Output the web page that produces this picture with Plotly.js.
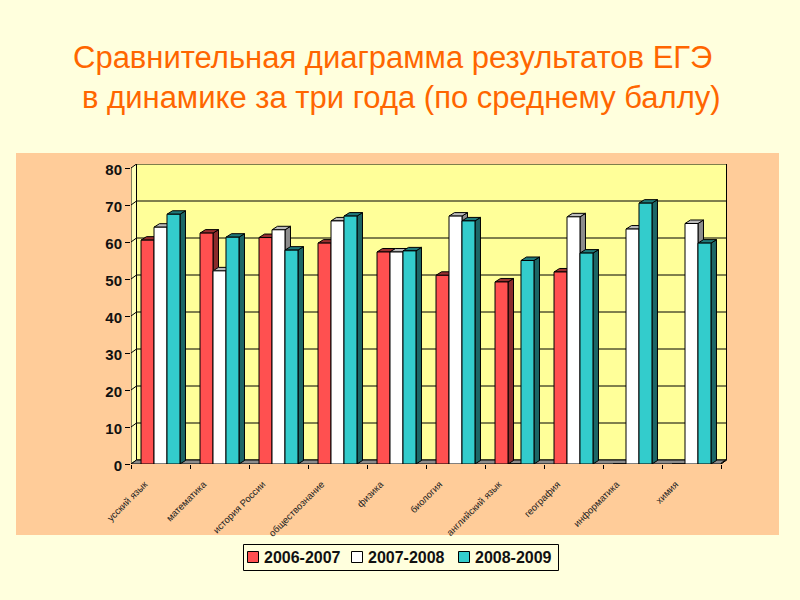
<!DOCTYPE html>
<html><head><meta charset="utf-8">
<script src="https://cdn.plot.ly/plotly-3.0.1.min.js"></script>
<style>html,body{margin:0;padding:0;background:#FFFFDD}</style></head><body>
<div id="chart" style="width:800px;height:600px"></div>
<script>
const categories = ["усский язык","математика","история России","обществознание","физика","биология","английский язык","география","информатика","химия"];
const seriesNames = ["2006-2007","2007-2008","2008-2009"];
const values2006 = [60.5,62.4,61.2,59.7,57.3,51,49.2,51.9,0,0];
const values2007 = [64,52.2,63.3,65.7,57.3,67,0,66.8,63.5,65];
const values2008 = [67.5,61.3,57.8,67,57.6,65.7,55,57,70.5,59.7];
const yTicks = [0,10,20,30,40,50,60,70,80];

const W=800,H=600,L=131,R=727,T=164,B=464;
const pxX=59, pxY=3.7;
const x0=-0.5, x1=x0+(R-L)/pxX, y1=(B-T)/pxY;
const paperX=p=>(p-L)/(R-L), paperY=p=>(B-p)/(B-T);
const wallDx=5.5/pxX, wallDy=4/pxY, barDx=5.5/pxX, barDy=3.5/pxY;
const barW=0.22;
const fills=["#FF5050","#FFFFFF","#33CCCC"];
const tops=["#993030","#BBBBBB","#1F7A7A"];
const sides=["#8A2B2B","#8C8C8C","#1C6666"];
const all=[values2006,values2007,values2008];
const poly=(pts,fill,w,col)=>({type:"path",xref:"x",yref:"y",layer:"below",
  path:"M"+pts.map(p=>p[0]+" "+p[1]).join(" L")+" Z",fillcolor:fill,line:{width:w===undefined?1:w,color:col||"#000"}});

const shapes=[];
shapes.push({type:"rect",xref:"paper",yref:"paper",layer:"below",x0:paperX(16),x1:paperX(779),y0:paperY(535),y1:paperY(153),fillcolor:"#FFCC99",line:{width:0}});
const xe=x0+categories.length;
shapes.push(poly([[x0+wallDx,wallDy],[xe+wallDx,wallDy],[xe+wallDx,80+wallDy],[x0+wallDx,80+wallDy]],"#FFFF99"));
shapes.push(poly([[x0,0],[x0+wallDx,wallDy],[x0+wallDx,80+wallDy],[x0,80]],"#FFFFB8"));
shapes.push(poly([[x0,0],[xe,0],[xe+wallDx,wallDy],[x0+wallDx,wallDy]],"#8C8C8C"));
shapes.push(poly([[xe,0],[xe+wallDx,wallDy],[xe+wallDx,0.2+wallDy],[xe,0.2]],"#FFFFB8"));
yTicks.slice(1,-1).forEach(v=>{
  shapes.push({type:"line",xref:"x",yref:"y",layer:"below",x0:x0,y0:v,x1:x0+wallDx,y1:v+wallDy,line:{width:1,color:"#000"}});
  shapes.push({type:"line",xref:"x",yref:"y",layer:"below",x0:x0+wallDx,y0:v+wallDy,x1:xe+wallDx,y1:v+wallDy,line:{width:1,color:"#000"}});
});
categories.forEach((c,i)=>{
  all.forEach((vals,s)=>{
    const v=vals[i]; if(!v) return;
    const a=i+(s-1)*barW-barW/2, b=a+barW;
    shapes.push(poly([[b,0],[b+barDx,barDy],[b+barDx,v+barDy],[b,v]],sides[s]));
    shapes.push(poly([[a,v],[b,v],[b+barDx,v+barDy],[a+barDx,v+barDy]],tops[s]));
  });
});

// legend box, swatches and labels
const annotations=[];
shapes.push({type:"rect",xref:"paper",yref:"paper",layer:"above",x0:paperX(243.5),x1:paperX(558.5),y0:paperY(570.5),y1:paperY(544.5),fillcolor:"#FFFFDD",line:{width:1,color:"#000"}});
const swatchX=[247,351,458], labelX=[262,366,473];
seriesNames.forEach((n,s)=>{
  shapes.push({type:"rect",xref:"paper",yref:"paper",layer:"above",x0:paperX(swatchX[s]+.5),x1:paperX(swatchX[s]+11.5),y0:paperY(562.5),y1:paperY(551.5),fillcolor:fills[s],line:{width:1,color:"#000"}});
  annotations.push({xref:"paper",yref:"paper",x:paperX(labelX[s]),y:paperY(557),xanchor:"left",yanchor:"middle",showarrow:false,text:n,
    font:{size:16,weight:"bold",color:"#111"}});
});

const xs=categories.map((c,i)=>i);
const traces=all.map((vals,s)=>({type:"bar",name:seriesNames[s],x:xs,y:vals,
  marker:{color:fills[s],line:{color:"#000",width:1}},hoverinfo:"y+name"}));

const layout={
  width:W,height:H,margin:{l:L,r:W-R,t:T,b:H-B,pad:0},
  paper_bgcolor:"#FFFFDD",plot_bgcolor:"rgba(0,0,0,0)",
  font:{family:"Liberation Sans, Arial, sans-serif",color:"#111"},
  barmode:"group",bargap:1-3*barW,bargroupgap:0,
  showlegend:false,
  title:{text:"Сравнительная диаграмма результатов ЕГЭ <br> в динамике за три года (по среднему баллу)",
    font:{size:31,color:"#FF6600",family:"Liberation Sans, Arial, sans-serif"},
    x:397/W,xanchor:"center",y:1-67.5/H,yanchor:"top"},
  xaxis:{type:"linear",range:[x0,x1],showgrid:false,zeroline:false,showline:false,
    tickmode:"array",tickvals:xs.map(i=>i-0.27),ticktext:categories,tickangle:-45,ticks:"",
    tickfont:{size:9.5,color:"#222"},ticklabelstandoff:12,
    minor:{tickmode:"array",tickvals:[...xs.map(i=>i-0.5),xe],ticks:"outside",ticklen:4,tickcolor:"#000",tickwidth:1,showgrid:false}},
  yaxis:{range:[0,y1],showgrid:false,zeroline:false,showline:false,
    tickmode:"array",tickvals:yTicks,ticktext:yTicks.map(String),ticks:"outside",ticklen:5,tickcolor:"#000",tickwidth:1,
    ticklabelshift:2,tickfont:{size:15,color:"#111",weight:"bold"}},
  shapes:shapes,annotations:annotations
};
Plotly.newPlot("chart",traces,layout,{displayModeBar:false,staticPlot:true});
</script></body></html>
